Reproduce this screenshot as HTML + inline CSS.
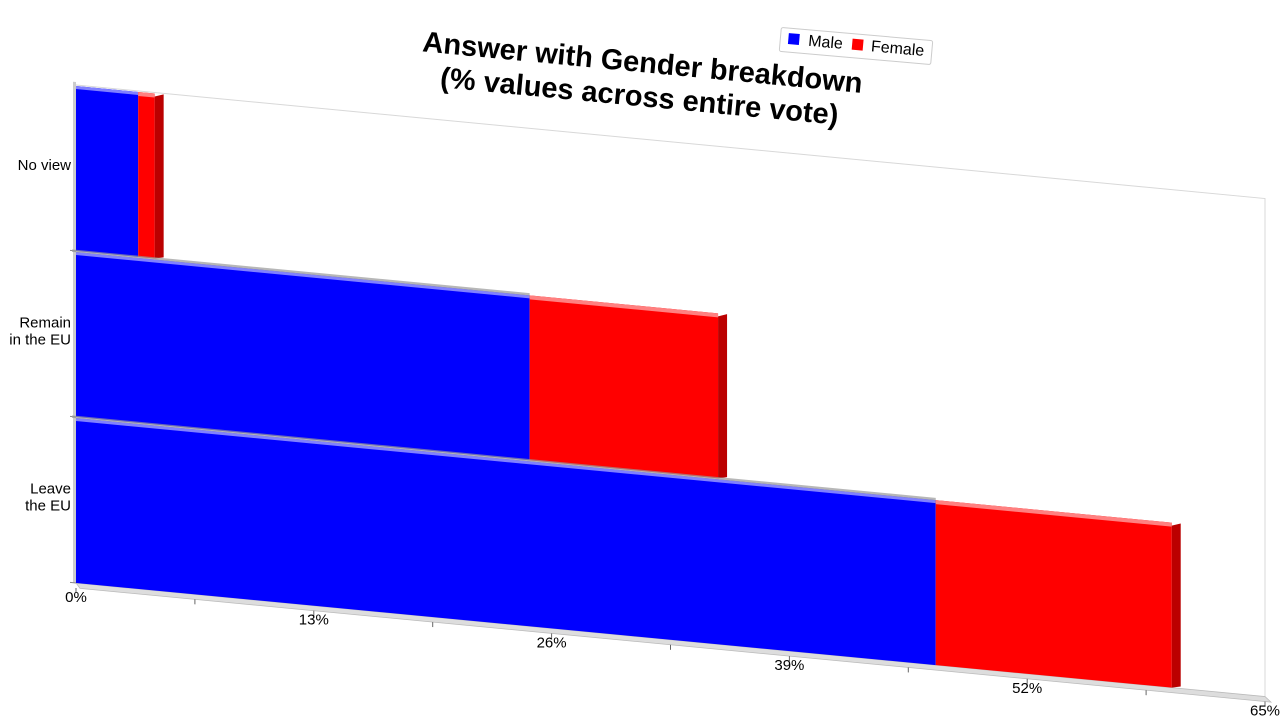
<!DOCTYPE html>
<html><head><meta charset="utf-8"><style>
html,body{margin:0;padding:0;background:#fff;}
svg{display:block;font-family:"Liberation Sans",sans-serif;}
</style></head><body>
<svg id="chart" width="1280" height="720" viewBox="0 0 1280 720" xmlns="http://www.w3.org/2000/svg">
  <g transform="rotate(5.4 640 90)">
    <text x="640" y="72" text-anchor="middle" font-size="29" font-weight="bold" fill="#000">Answer with Gender breakdown</text>
    <text x="640" y="106" text-anchor="middle" font-size="29" font-weight="bold" fill="#000">(% values across entire vote)</text>
  </g>
  <g transform="rotate(5 856 46)">
    <rect x="780" y="34" width="152" height="24" fill="#fff" stroke="#ccc" rx="2"/>
    <g><rect x="788" y="39" width="11" height="11" fill="#0000ff"/><text x="808" y="50" font-size="16">Male</text></g>
    <g><rect x="852" y="39" width="11" height="11" fill="#ff0000"/><text x="871" y="50" font-size="16">Female</text></g>
  </g>
  <g id="plot"></g>
  <g id="labels"></g>
</svg>
<script>
const categories = ["No view", "Remain\nin the EU", "Leave\nthe EU"];
const maleValues = [3.4, 24.8, 47.0];
const femaleValues = [0.9, 10.3, 12.9];
const tickLabels = ["0%", "13%", "26%", "39%", "52%", "65%"];
const tickValues = [0, 13, 26, 39, 52, 65];

const NS = "http://www.w3.org/2000/svg";
const X0 = 76, Y0 = 85, W = 1189, H = 498, SLOPE = 0.0955, MAXV = 65;
const xs = v => v / MAXV * W;
function mk(tag, attrs, parent) {
  const e = document.createElementNS(NS, tag);
  for (const k in attrs) e.setAttribute(k, attrs[k]);
  parent.appendChild(e);
  return e;
}
const plot = document.getElementById('plot');
const labels = document.getElementById('labels');
const g = mk('g', {transform: `translate(${X0},${Y0}) matrix(1,${SLOPE},0,1,0,0)`}, plot);
// back wall lines
const wall = mk('path', {d:`M0 0 L${W} 0 L${W} ${H}`, fill:'none', stroke:'#d8d8d8', 'stroke-width':1}, g);


// floor
const floor = mk('path', {d:`M0 ${H} L${W} ${H} L${W+6} ${H+5} L4 ${H+5} Z`, fill:'#ddd', stroke:'#bbb','stroke-width':0.8}, g);


const lwall = mk('rect', {x:-3, y:-3, width:3, height:H+3, fill:'#ccc'}, g);


const band = H / categories.length;
categories.forEach((c, i) => {
  const top = i * band + 1, h = band - 1;
  const m = xs(maleValues[i]), f = xs(maleValues[i] + femaleValues[i]);
  const mb = mk('rect', {x:0, y:top, width:m, height:h, fill:'#0000ff'}, g);
  
  
  mk('rect', {x:0, y:top, width:m, height:3, fill:'#8080ff'}, g);
  const fb = mk('rect', {x:m, y:top, width:f - m, height:h, fill:'#ff0000'}, g);
  
  
  mk('rect', {x:m, y:top, width:f - m, height:4, fill:'#ff8080'}, g);
  mk('path', {d:`M${f} ${top+3} L${f+9} ${top} L${f+9} ${top+h-2} L${f} ${top+h} Z`, fill:'#bb0000'}, g);
  if (i > 0) mk('line', {x1:-4, y1:i*band, x2:m, y2:i*band, stroke:'#999', 'stroke-width':2.5, opacity:0.7}, g);
  // category labels
  const lines = c.split("\n");
  const t = mk('text', {x:71, 'text-anchor':'end', 'font-size':15, fill:'#000'}, labels);
  
  
  const cy = Y0 + i * band + band / 2 + 2;
  lines.forEach((l, j) => {
    const ts = mk('tspan', {x:71, y: cy - (lines.length - 1) * 8.5 + j * 17}, t);
    ts.textContent = l;
  });
  mk('line', {x1:-6, y1:(i+1)*band, x2:0, y2:(i+1)*band, stroke:'#888'}, g);
});
// ticks
for (let v = 0; v <= MAXV; v += 6.5) {
  mk('line', {x1:xs(v), y1:H+5, x2:xs(v), y2:H+10, stroke:'#666'}, g);
}
tickValues.forEach((v, i) => {
  const x = X0 + xs(v), y = Y0 + H + SLOPE * xs(v) + 19;
  const t = mk('text', {x: x - (i===0?0:0), y: y, 'text-anchor':'middle', 'font-size':15, fill:'#000'}, labels);
  
  
  t.textContent = tickLabels[i];
});
</script>
</body></html>
